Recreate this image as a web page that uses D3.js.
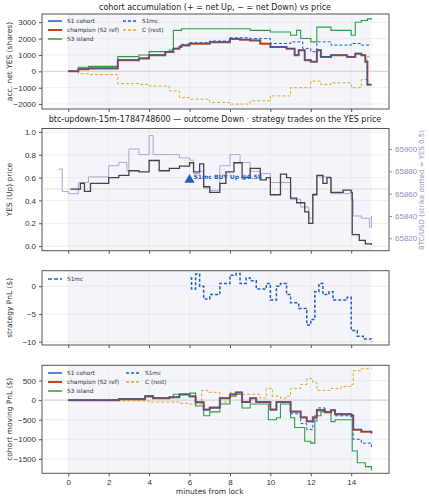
<!DOCTYPE html><html><head><meta charset="utf-8">
<script src="https://cdn.jsdelivr.net/npm/d3@7/dist/d3.min.js"></script>
<style>body{margin:0;background:#fff}svg{font-family:"DejaVu Sans",sans-serif}</style></head><body>
<svg id="c" width="429" height="500"></svg>
<script>
// ---- data (minutes, value) ----
const accS1=[[0,0],[0.5,150],[1,200],[2.45,700],[3.5,800],[4,1000],[4.8,1200],[5.2,1400],[5.5,1500],[5.6,1600],[6,1700],[7,1800],[8,2000],[8.5,1950],[9,1900],[9.5,1700],[10,1500],[10.8,1400],[11.2,1000],[11.4,1300],[11.7,700],[12,600],[12.3,1300],[12.5,900],[12.8,900],[13,1000],[13.8,900],[14.2,1100],[14.5,1000],[14.7,600],[14.8,-800],[15,-800]];
const accChamp=[[0,0],[0.5,130],[1,180],[2.45,680],[3.5,780],[4,980],[4.8,1180],[5.2,1380],[5.5,1480],[5.6,1580],[6,1680],[7,1780],[8,1980],[8.5,1930],[9,1880],[9.5,1680],[10,1480],[10.8,1380],[11.2,980],[11.4,1280],[11.7,680],[12,580],[12.3,1280],[12.5,880],[12.8,880],[13,980],[13.8,880],[14.2,1080],[14.5,980],[14.7,580],[14.8,-820],[15,-820]];
const accS3=[[0,0],[0.5,250],[1,300],[2.45,900],[3.5,1000],[4,1200],[5,1300],[5.2,2500],[5.6,2600],[8,2600],[9,2500],[10,2400],[11,2200],[11.3,2500],[11.5,2000],[12,1800],[12.3,2700],[13,2500],[14,2200],[14.2,3000],[14.5,3100],[14.8,3200],[15,3250]];
const accS1mc=[[0,0],[0.5,150],[1,200],[2.45,700],[3.5,800],[4,1000],[4.8,1200],[5.2,1400],[5.5,1550],[5.6,1650],[6,1750],[7,1850],[8,2050],[9,2000],[9.5,2000],[10,1700],[11,1800],[11.3,1800],[11.6,1400],[12,1200],[12.3,1800],[13,1600],[14,1700],[14.5,1600],[15,1600]];
const accC=[[0,0],[0.5,-150],[1,-200],[2.45,-750],[3.5,-800],[4,-900],[5,-1200],[5.5,-1600],[6,-1700],[7,-1900],[8,-2000],[9,-1800],[10,-1500],[11,-1000],[12,-600],[12.5,-800],[13,-700],[14,-1000],[14.5,-500],[14.8,900],[15,900]];
const yesPrice=[[0.1,0.5],[0.6,0.55],[0.8,0.48],[1.1,0.55],[2,0.6],[2.5,0.62],[3,0.66],[3.5,0.65],[4,0.75],[4.5,0.66],[5,0.68],[5.5,0.7],[6,0.73],[6.2,0.65],[6.5,0.72],[6.7,0.52],[7,0.47],[7.5,0.55],[7.8,0.65],[8.2,0.73],[8.6,0.6],[9,0.68],[9.5,0.58],[9.8,0.6],[10,0.45],[10.5,0.63],[10.8,0.6],[11,0.42],[11.3,0.38],[11.7,0.3],[11.9,0.2],[12.1,0.45],[12.3,0.62],[12.6,0.55],[12.8,0.6],[13,0.47],[13.6,0.49],[14,0.47],[14.05,0.1],[14.4,0.05],[14.7,0.02],[15,0.01]];
const btc=[[-0.5,65882],[-0.3,65862],[0,65860],[0.5,65870],[1,65875],[2,65885],[2.5,65888],[2.9,65880],[3,65900],[3.5,65895],[4,65912],[4.2,65895],[5,65895],[5.5,65892],[6,65890],[6.2,65878],[6.5,65880],[6.7,65865],[7,65863],[7.5,65885],[8,65895],[8.5,65888],[9,65880],[9.5,65878],[10,65870],[10.5,65870],[11,65855],[11.5,65848],[11.9,65838],[12.1,65860],[12.3,65875],[13,65860],[14,65855],[14.1,65840],[14.5,65838],[14.9,65830],[15,65840]];
const pnlS1mc=[[6.05,1.5],[6.1,-0.5],[6.3,2.2],[6.5,0],[6.7,-2.3],[7,-1.5],[7.5,0.5],[8,2],[8.3,2.3],[8.5,0.5],[8.8,1.5],[9,1],[9.3,-0.5],[9.8,0.5],[10,-2.5],[10.3,0],[10.5,0.5],[10.8,-1.5],[11,-3],[11.4,-4],[11.8,-7],[12,-6],[12.2,-1],[12.4,0.5],[12.6,-1.5],[12.9,-1],[13.1,-2.5],[13.8,-2],[14,-8],[14.3,-9],[14.6,-9.5],[15,-10]];
const movS1=[[0,0],[2.5,30],[3.8,100],[4.2,50],[5,80],[5.5,150],[6,100],[6.3,-50],[6.7,-250],[7,-200],[7.5,50],[8,150],[8.3,200],[8.6,-50],[9,50],[9.3,-50],[10,-250],[10.3,-50],[11,-300],[11.5,-450],[11.8,-550],[12.1,-450],[12.3,-250],[12.7,-300],[13,-250],[13.2,-350],[14,-380],[14.1,-750],[14.5,-800],[15,-850]];
const movChamp=[[0,0],[2.5,25],[3.8,95],[4.2,45],[5,75],[5.5,145],[6,95],[6.3,-55],[6.7,-240],[7,-190],[7.5,45],[8,145],[8.3,195],[8.6,-45],[9,45],[9.3,-45],[10,-240],[10.3,-45],[11,-290],[11.5,-440],[11.8,-540],[12.1,-440],[12.3,-260],[12.7,-310],[13,-260],[13.2,-360],[14,-390],[14.1,-760],[14.5,-810],[15,-850]];
const movS3=[[0,0],[2.5,40],[3.8,120],[4.2,60],[5.2,150],[6,180],[6.3,-150],[6.7,-400],[7,-300],[7.5,-100],[8,100],[8.3,150],[8.6,-200],[9,-100],[9.9,-500],[10.3,-450],[10.5,-100],[11,-450],[11.2,-700],[11.7,-1050],[12,-1100],[12.2,-400],[12.5,-300],[13,-550],[13.2,-500],[14,-500],[14.05,-1300],[14.3,-1600],[14.7,-1700],[15,-1800]];
const movS1mc=[[0,0],[2.5,30],[3.8,100],[4.2,50],[5,80],[5.5,150],[6,100],[6.3,-50],[6.7,-250],[7,-200],[7.5,50],[8,150],[8.3,200],[8.6,-50],[9,50],[9.3,-50],[10,-250],[10.3,-50],[11,-350],[11.5,-600],[11.8,-750],[12.1,-550],[12.3,-200],[12.7,-300],[13.2,-400],[14,-450],[14.1,-1000],[14.5,-1100],[15,-1200]];
const movC=[[0,0],[2.5,-20],[4,-50],[5.5,-80],[6,-100],[6.6,250],[6.9,200],[7.5,-50],[8,200],[8.3,150],[9.5,50],[9.8,300],[10.1,100],[10.5,50],[10.8,100],[11,300],[11.5,400],[11.8,550],[12.1,450],[12.3,250],[13,300],[13.5,350],[14,400],[14.1,750],[14.5,800],[15,800]];
const xTicks=[0,2,4,6,8,10,12,14];

const svg=d3.select("#c");
const L=42,R=389;
const x=d3.scaleLinear().domain([-1.3,15.87]).range([L,R]);
const C={blue:"#1f5fbf",red:"#c0451f",green:"#2e9e3e",orange:"#e5a81a",gray:"#444",lilac:"#b3a3d3"};
function panel(top,bot,dom,ticks,label,fmt){
  const y=d3.scaleLinear().domain(dom).range([bot,top]);
  const g=svg.append("g");
  g.append("rect").attr("x",x(0)).attr("width",x(15)-x(0)).attr("y",top).attr("height",bot-top).attr("fill","#f3f5fb");
  g.selectAll(".gy").data(ticks).join("line").attr("x1",L).attr("x2",R).attr("y1",d=>y(d)).attr("y2",d=>y(d)).attr("stroke","#e2e2e2").attr("stroke-width",0.6);
  g.selectAll(".gx").data(xTicks).join("line").attr("x1",d=>x(d)).attr("x2",d=>x(d)).attr("y1",top).attr("y2",bot).attr("stroke","#e6e6e6").attr("stroke-width",0.6);
  const ay=g.append("g").attr("transform",`translate(${L},0)`).call(d3.axisLeft(y).tickValues(ticks).tickSize(3).tickFormat(fmt||(d=>String(d).replace("-","\u2212"))));
  const ax=g.append("g").attr("transform",`translate(0,${bot})`).call(d3.axisBottom(x).tickValues(xTicks).tickSize(3).tickFormat(""));
  [ay,ax].forEach(a=>{a.select(".domain").remove();a.selectAll("text").attr("font-size",8).attr("fill","#333");a.selectAll("line").attr("stroke","#555")});
  g.append("rect").attr("x",L).attr("y",top).attr("width",R-L).attr("height",bot-top).attr("fill","none").attr("stroke","#555").attr("stroke-width",1);
  g.append("text").attr("transform",`translate(12,${(top+bot)/2}) rotate(-90)`).attr("text-anchor","middle").attr("font-size",7.5).attr("fill","#333").text(label);
  return {y,g,ax};
}
function line(p,data,color,dash,w,op){
  p.g.append("path").datum(data).attr("fill","none").attr("stroke",color).attr("stroke-width",w||1.2).attr("stroke-dasharray",dash||null).attr("opacity",op||1)
   .attr("d",d3.line().curve(d3.curveStepAfter).x(d=>x(d[0])).y(d=>p.y(d[1])));
}
function legend(p,items,x0,y0,cols){
  items.forEach((it,i)=>{
    const cx=x0+Math.floor(i/3)*cols, cy=y0+(i%3)*9;
    p.g.append("line").attr("x1",cx).attr("x2",cx+14).attr("y1",cy).attr("y2",cy).attr("stroke",it[1]).attr("stroke-width",it[3]||1.5).attr("stroke-dasharray",it[2]||null);
    p.g.append("text").attr("x",cx+19).attr("y",cy+2.3).attr("font-size",5.8).attr("fill","#333").text(it[0]);
  });
}
function title(t,yy){svg.append("text").attr("x",215).attr("y",yy).attr("text-anchor","middle").attr("font-size",8).attr("fill","#222").text(t);}

// panel 1
title("cohort accumulation (+ = net Up, \u2212 = net Down) vs price",10);
const p1=panel(14,109,[-2300,3500],[-2000,-1000,0,1000,2000,3000],"acc. net YES (shares)");
p1.g.append("line").attr("x1",L).attr("x2",R).attr("y1",p1.y(0)).attr("y2",p1.y(0)).attr("stroke","#ccc").attr("stroke-width",0.8);
line(p1,accC,C.orange,"3,2",1);
line(p1,accS3,C.green,null,1.1);
line(p1,accS1mc,C.blue,"3,2",1);
line(p1,accChamp,C.red,null,2);
line(p1,accS1,C.blue,null,1);
legend(p1,[["S1 cohort",C.blue],["champion (S2 ref)",C.red,null,2],["S3 island",C.green],["S1mc",C.blue,"3,2"],["C (rest)",C.orange,"3,2"]],48,21,75);

// panel 2
title("btc-updown-15m-1784748600 \u2014 outcome Down \u00b7 strategy trades on the YES price",122);
const p2=panel(128.5,250.7,[-0.04,1.03],[0,0.2,0.4,0.6,0.8,1.0],"YES (Up) price",d3.format(".1f"));
const yb=d3.scaleLinear().domain([65820,65900]).range([238.3,149]);
p2.g.append("path").datum(btc).attr("fill","none").attr("stroke",C.lilac).attr("stroke-width",1)
  .attr("d",d3.line().curve(d3.curveStepAfter).x(d=>x(d[0])).y(d=>yb(d[1])));
p2.g.append("line").attr("x1",L).attr("x2",R).attr("y1",p2.y(0.5)).attr("y2",p2.y(0.5)).attr("stroke","#aaa").attr("stroke-width",0.8).attr("stroke-dasharray","1,1.5");
line(p2,yesPrice,C.gray,null,1.3);
const ar=p2.g.append("g").attr("transform",`translate(${R},0)`).call(d3.axisRight(yb).tickValues([65820,65840,65860,65880,65900]).tickSize(3).tickFormat(d3.format("d")));
ar.select(".domain").remove();ar.selectAll("text").attr("font-size",8).attr("fill","#9b88c4");ar.selectAll("line").attr("stroke","#9b88c4");
svg.append("text").attr("transform",`translate(424,190) rotate(-90)`).attr("text-anchor","middle").attr("font-size",7).attr("fill","#9b88c4").text("BTC/USD (strike dotted = YES 0.5)");
const tp=[6,0.58];
p2.g.append("path").attr("d",d3.symbol(d3.symbolTriangle,45)()).attr("transform",`translate(${x(tp[0])},${p2.y(tp[1])})`).attr("fill",C.blue);
p2.g.append("text").attr("x",x(tp[0])+4).attr("y",p2.y(tp[1])-1).attr("font-size",6).attr("font-weight","bold").attr("fill",C.blue).text("S1mc BUY Up @0.58");

// panel 3
const p3=panel(270.7,345,[-10.6,2.8],[-10,-5,0],"strategy PnL ($)");
line(p3,pnlS1mc,C.blue,"3,2",1.5);
legend(p3,[["S1mc",C.blue,"4,2",1.5]],48,279,60);

// panel 4
const p4=panel(365.3,473.3,[-1870,890],[-1500,-1000,-500,0,500],"cohort moving PnL ($)");
p4.g.append("line").attr("x1",L).attr("x2",R).attr("y1",p4.y(0)).attr("y2",p4.y(0)).attr("stroke","#ccc").attr("stroke-width",0.8);
line(p4,movC,C.orange,"3,2",1);
line(p4,movS3,C.green,null,1.1);
line(p4,movS1mc,C.blue,"3,2",1);
line(p4,movChamp,C.red,null,2);
line(p4,movS1,C.blue,null,1);
legend(p4,[["S1 cohort",C.blue],["champion (S2 ref)",C.red,null,2],["S3 island",C.green],["S1mc",C.blue,"3,2"],["C (rest)",C.orange,"3,2"]],48,373,78);
p4.ax.call(d3.axisBottom(x).tickValues(xTicks).tickSize(3));
p4.ax.select(".domain").remove();p4.ax.selectAll("text").attr("font-size",8).attr("fill","#333");p4.ax.selectAll("line").attr("stroke","#555");
svg.append("text").attr("x",x(7)).attr("y",494).attr("text-anchor","middle").attr("font-size",7.5).attr("fill","#333").text("minutes from lock");
</script></body></html>
